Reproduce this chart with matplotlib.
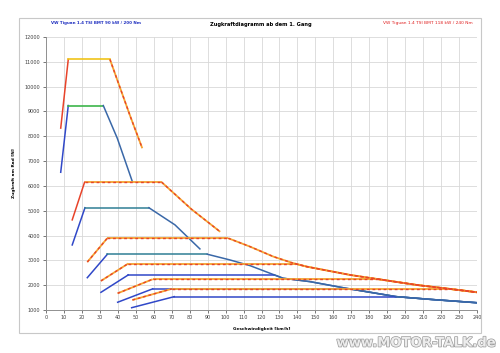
import numpy as np
import matplotlib
matplotlib.use("Agg")
import matplotlib.pyplot as plt
from matplotlib.patches import Rectangle
import matplotlib.patheffects as pe

# speed [km/h] / tractive force [N]
# 90 kW (blue) - rise and flat per gear
b_rise_v = [[8.2, 12.4], [14.6, 21.7], [23, 34.2], [30.6, 45.8], [39.9, 59.4], [47.7, 71.4]]
b_rise_f = [[6550, 9240], [3620, 5120], [2300, 3246], [1710, 2411], [1310, 1850], [1090, 1536]]
b_desc1_v = [31.9, 39.7, 48.1]
b_desc1_f = [9240, 7920, 6170]
b_desc2_v = [57.3, 71.8, 85.7]
b_desc2_f = [5120, 4430, 3460]
b_curve_v = [89.8, 102.4, 113.6, 132, 147, 167, 195, 215, 240]
b_curve_f = [3246, 3016, 2786, 2278, 2141, 1875, 1536, 1420, 1290]

# 118 kW (red)
r_rise_v = [[8.2, 12.4], [14.6, 21.5], [23, 34.1], [30.6, 45.8], [39.9, 59.4], [48.1, 70]]
r_rise_f = [[8330, 11100], [4630, 6150], [2930, 3890], [2170, 2870], [1670, 2238], [1400, 1850]]
r_desc1_v = [35.6, 46.8, 53.6]
r_desc1_f = [11100, 8830, 7520]
r_desc2_v = [64.4, 81, 97]
r_desc2_f = [6150, 5060, 4150]
r_curve_v = [101.5, 113.6, 126.6, 137.7, 145.2, 169.3, 187.8, 206.3, 224.9, 240]
r_curve_f = [3890, 3552, 3150, 2883, 2746, 2411, 2210, 2008, 1847, 1712]

x_ticks = list(range(0, 241, 10))
y_ticks = list(range(1000, 12001, 1000))

RED = '#e8432a'
ORANGE = '#f5a431'
BLUE = '#3048c8'
TEAL = '#2f7f95'
STEEL = '#3a68a8'
GREEN = '#3cb54a'
YELLOW = '#f0c419'


def red_dash(ax, v, f):
    ax.plot(v, f, color=ORANGE, lw=1.3, solid_capstyle='butt', zorder=3)
    ax.plot(v, f, color=RED, lw=1.0, dashes=(2, 2), zorder=4)


def follow(curve_v, curve_f, start_v, level):
    # where a flat meets the common power curve, then continue along it
    end_v = np.interp(level, curve_f[::-1], curve_v[::-1])
    tail_v = [end_v] + [v for v in curve_v if v > end_v]
    tail_f = [level] + [f for v, f in zip(curve_v, curve_f) if v > end_v]
    return [start_v, end_v], [level, level], tail_v, tail_f


fig = plt.figure(figsize=(5, 3.53), dpi=100)
fig.patch.set_facecolor('white')
fig.patches.append(Rectangle((19 / 500, 1 - 333 / 353), 462 / 500, 315 / 353,
                             transform=fig.transFigure, fill=False,
                             edgecolor='#c8c8c8', lw=0.8))

ax = fig.add_axes([0.092, 0.122, 0.862, 0.773])
ax.set_xlim(0, 240)
ax.set_ylim(1000, 12000)
ax.set_xticks(x_ticks)
ax.set_yticks(y_ticks)
ax.grid(True, color='#d8d8d8', lw=0.6)
ax.set_axisbelow(True)
for s in ['top', 'right']:
    ax.spines[s].set_visible(False)
for s in ['left', 'bottom']:
    ax.spines[s].set_color('#909090')
    ax.spines[s].set_linewidth(0.7)
ax.tick_params(labelsize=3.5, colors='#404040', length=2, width=0.5, pad=2)
ax.set_xlabel('Geschwindigkeit [km/h]', fontsize=3.1, fontweight='bold', labelpad=5)
ax.set_ylabel('Zugkraft am Rad [N]', fontsize=3.1, fontweight='bold', labelpad=6)

# 90 kW
for i in range(6):
    v0, v1 = b_rise_v[i]
    f0, f1 = b_rise_f[i]
    ax.plot([v0, v1], [f0, f1], color=BLUE, lw=1.1, zorder=3)
    if i == 0:
        ax.plot([v1, b_desc1_v[0]], [f1, f1], color=GREEN, lw=1.2, zorder=3)
        ax.plot(b_desc1_v, b_desc1_f, color=STEEL, lw=1.1, zorder=3)
    elif i == 1:
        ax.plot([v1, b_desc2_v[0]], [f1, f1], color=TEAL, lw=1.1, zorder=3)
        ax.plot(b_desc2_v, b_desc2_f, color=STEEL, lw=1.1, zorder=3)
    else:
        fv, ff, tv, tf = follow(b_curve_v, b_curve_f, v1, f1)
        ax.plot(fv, ff, color=TEAL if i == 2 else BLUE, lw=1.1, zorder=3)
        ax.plot(tv, tf, color=STEEL, lw=1.1, zorder=3)

# 118 kW
for i in range(6):
    v0, v1 = r_rise_v[i]
    f0, f1 = r_rise_f[i]
    if i == 0:
        ax.plot([v0, v1], [f0, f1], color=RED, lw=1.1, zorder=3)
        ax.plot([v1, r_desc1_v[0]], [f1, f1], color=YELLOW, lw=1.2, zorder=3)
        red_dash(ax, r_desc1_v, r_desc1_f)
    elif i == 1:
        ax.plot([v0, v1], [f0, f1], color=RED, lw=1.1, zorder=3)
        red_dash(ax, [v1, r_desc2_v[0]], [f1, f1])
        red_dash(ax, r_desc2_v, r_desc2_f)
    else:
        red_dash(ax, [v0, v1], [f0, f1])
        fv, ff, tv, tf = follow(r_curve_v, r_curve_f, v1, f1)
        red_dash(ax, fv, ff)
        red_dash(ax, tv, tf)

fig.text(0.522, 0.932, 'Zugkraftdiagramm ab dem 1. Gang', ha='center', va='center',
         fontsize=3.7, fontweight='bold')
fig.text(0.102, 0.936, 'VW Tiguan 1.4 TSI BMT 90 kW / 200 Nm', ha='left', va='center',
         fontsize=2.9, fontweight='bold', color='#2030c0')
fig.text(0.946, 0.936, 'VW Tiguan 1.4 TSI BMT 118 kW / 240 Nm', ha='right', va='center',
         fontsize=3.2, color='#e02020')
fig.text(0.994, 0.028, 'www.MOTOR-TALK.de', ha='right', va='center', fontsize=9.5,
         fontweight='bold', color='#ececec',
         path_effects=[pe.withStroke(linewidth=1.0, foreground='#9a9a9a')])

fig.savefig('out.png', dpi=100)
